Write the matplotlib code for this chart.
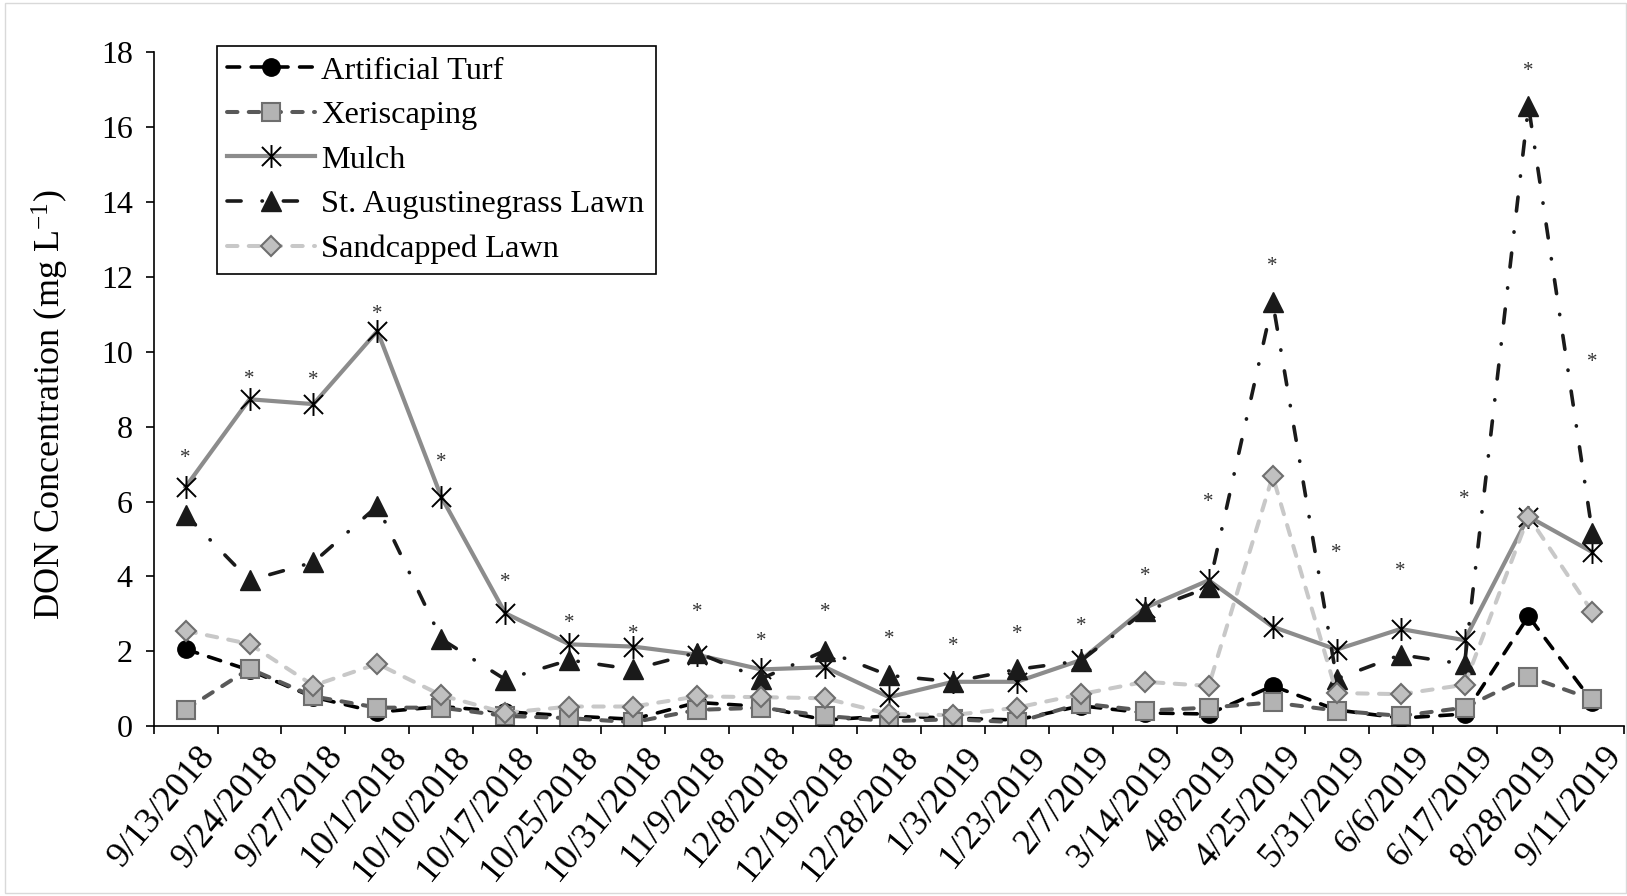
import matplotlib
matplotlib.use("Agg")
import matplotlib.pyplot as plt
import matplotlib.transforms as mtransforms
from matplotlib.path import Path
from matplotlib.patches import Rectangle

plt.rcParams["font.family"] = ["Liberation Serif", "DejaVu Serif"]
plt.rcParams["mathtext.fontset"] = "custom"
plt.rcParams["mathtext.rm"] = "Liberation Serif"
plt.rcParams["mathtext.it"] = "Liberation Serif:italic"

# sampling dates and DON concentrations (mg/L) per landscape treatment
dates = ["9/13/2018", "9/24/2018", "9/27/2018", "10/1/2018", "10/10/2018",
         "10/17/2018", "10/25/2018", "10/31/2018", "11/9/2018", "12/8/2018",
         "12/19/2018", "12/28/2018", "1/3/2019", "1/23/2019", "2/7/2019",
         "3/14/2019", "4/8/2019", "4/25/2019", "5/31/2019", "6/6/2019",
         "6/17/2019", "8/28/2019", "9/11/2019"]

artificial_turf = [2.06, 1.50, 0.78, 0.38, 0.53, 0.39, 0.28, 0.19, 0.64, 0.53,
                   0.17, 0.28, 0.22, 0.17, 0.55, 0.36, 0.33, 1.08, 0.44, 0.22,
                   0.33, 2.94, 0.66]
xeriscaping = [0.45, 1.54, 0.80, 0.50, 0.50, 0.28, 0.22, 0.11, 0.44, 0.50,
               0.28, 0.14, 0.19, 0.11, 0.61, 0.42, 0.50, 0.64, 0.42, 0.28,
               0.50, 1.33, 0.72]
mulch = [6.39, 8.73, 8.60, 10.55, 6.12, 3.02, 2.19, 2.13, 1.91, 1.52,
         1.58, 0.78, 1.19, 1.19, 1.77, 3.16, 3.90, 2.66, 2.05, 2.60,
         2.30, 5.60, 4.65]
st_augustine = [5.65, 3.90, 4.38, 5.88, 2.33, 1.25, 1.77, 1.52, 1.97, 1.27,
                2.02, 1.36, 1.19, 1.52, 1.75, 3.07, 3.71, 11.33, 1.27, 1.91,
                1.66, 16.56, 5.15]
sandcapped = [2.55, 2.20, 1.09, 1.67, 0.83, 0.36, 0.53, 0.53, 0.80, 0.78,
              0.75, 0.33, 0.30, 0.50, 0.86, 1.19, 1.08, 6.68, 0.89, 0.86,
              1.11, 5.60, 3.05]

# height of the significance asterisk above each date
star_y = [7.29, 9.39, 9.36, 11.14, 7.17, 3.99, 2.88, 2.60, 3.19, 2.41,
          3.19, 2.47, 2.27, 2.60, 2.80, 4.13, 6.12, 12.41, 4.76, 4.27,
          6.20, 17.62, 9.86]

x = list(range(len(dates)))

# six-armed star marker (X plus a vertical bar)
star_marker = Path([(-1, -1), (1, 1), (-1, 1), (1, -1), (0, -1.2), (0, 1.2)],
                   [Path.MOVETO, Path.LINETO, Path.MOVETO, Path.LINETO,
                    Path.MOVETO, Path.LINETO])

fig = plt.figure(figsize=(16.27, 8.96), dpi=100)
ax = fig.add_axes([0.0944, 0.1893, 0.9040, 0.7528])

ax.plot(x, artificial_turf, color="black", lw=2.6, ls=(0, (3.5, 3.2)),
        dash_capstyle="round", marker="o", ms=12.5, mfc="black", mec="black",
        label="Artificial Turf")
ax.plot(x, xeriscaping, color="#595959", lw=2.9, ls=(0, (2.6, 2.8)),
        dash_capstyle="round", marker="s", ms=12.5, mfc="#b3b3b3",
        mec="#6e6e6e", mew=1.5, label="Xeriscaping")
ax.plot(x, mulch, color="#8c8c8c", lw=3.0, marker=star_marker, ms=16.5,
        mfc="none", mec="black", mew=1.4, label="Mulch")
ax.plot(x, st_augustine, color="#1a1a1a", lw=2.6,
        ls=(0, (3.9, 5.8, 0.1, 5.8)), dash_capstyle="round", marker="^",
        ms=14.5, mfc="#1a1a1a", mec="#1a1a1a", label="St. Augustinegrass Lawn")
ax.plot(x, sandcapped, color="#c8c8c8", lw=2.9, ls=(0, (2.6, 2.8)),
        dash_capstyle="round", marker="D", ms=10.5, mfc="#c0c0c0",
        mec="#6e6e6e", mew=1.5, label="Sandcapped Lawn")

for xi, yi in zip(x, star_y):
    ax.annotate("*", (xi, yi), xytext=(0, -7), textcoords="offset points",
                ha="center", va="baseline", fontsize=15, color="#333333")

ax.set_xlim(-0.5, len(dates) - 0.5)
ax.set_ylim(0, 18)
ax.set_yticks(range(0, 19, 2))
ax.tick_params(axis="y", labelsize=23, direction="out", length=6,
               width=1.2, pad=9)

# boundary ticks between dates, labels centred on each date
ax.set_xticks([i - 0.5 for i in range(len(dates) + 1)])
ax.set_xticklabels([])
ax.tick_params(axis="x", which="major", direction="out", length=6, width=1.2)
ax.set_xticks(x, minor=True)
ax.set_xticklabels(dates, minor=True)
ax.tick_params(axis="x", which="minor", length=0, labelsize=26, pad=0)
shift = mtransforms.ScaledTranslation(11 / 100, -14 / 100, fig.dpi_scale_trans)
for lbl in ax.get_xticklabels(minor=True):
    lbl.set_rotation(50)
    lbl.set_ha("right")
    lbl.set_va("top")
    lbl.set_rotation_mode("anchor")
    lbl.set_transform(lbl.get_transform() + shift)

for side in ("top", "right"):
    ax.spines[side].set_visible(False)
for side in ("left", "bottom"):
    ax.spines[side].set_linewidth(1.2)

fig.text(50 / 1627, 1 - 405 / 896, r"DON Concentration (mg L$^{-1}$)",
         rotation=90, ha="center", va="center", fontsize=26)

leg = ax.legend(loc="upper left",
                bbox_to_anchor=(217 / 1627, 1 - 266.7 / 896, 439 / 1627, 221 / 896),
                bbox_transform=fig.transFigure, mode="expand", fontsize=23.3,
                frameon=True, fancybox=False, framealpha=1, edgecolor="black",
                borderpad=0.32, borderaxespad=0, handlelength=2.7,
                handletextpad=0.2, labelspacing=0.46)
leg.get_frame().set_linewidth(1.2)

fig.patches.append(Rectangle((5 / 1627, 3 / 896), 1621 / 1627, 890 / 896,
                             transform=fig.transFigure, fill=False,
                             edgecolor="#d9d9d9", lw=1))

fig.savefig("out.png", dpi=100)
